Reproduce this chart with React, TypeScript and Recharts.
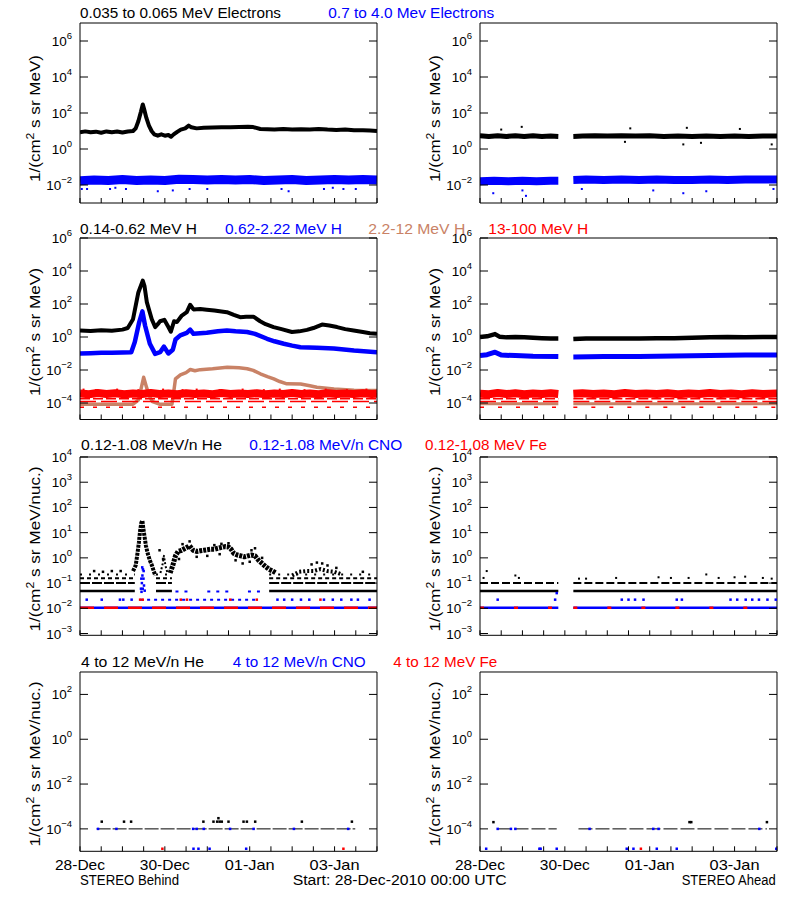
import { ComposedChart, Line, Scatter, XAxis, YAxis } from "recharts";

type Pt = [number, number | null];

const FONT = "'Liberation Sans', Arial, sans-serif";
const BLACK = "#000000";
const BLUE = "#0000ff";
const BROWN = "#c98266";
const RED = "#ff0000";

// hours since 28-Dec-2010 00:00, ticks every 12 h
const HOUR_TICKS = [0, 12, 24, 36, 48, 60, 72, 84, 96, 108, 120, 132, 144, 156, 168];
const DATE_LABELS: Record<number, string> = { 0: "28-Dec", 48: "30-Dec", 96: "01-Jan", 144: "03-Jan" };

const TICKS_E = [1e-2, 1, 1e2, 1e4, 1e6];
const TICKS_H = [1e-4, 1e-2, 1, 1e2, 1e4, 1e6];
const TICKS_ION = [1e-3, 1e-2, 1e-1, 1, 1e1, 1e2, 1e3, 1e4];
const TICKS_HI = [1e-4, 1e-2, 1, 1e2];

// ---------- electrons ----------
const E_LOW_BEHIND: Pt[] = [
  [0, 8.5], [3, 9.5], [6, 8.5], [9, 9.2], [12, 8], [15, 9.5], [18, 8.6], [21, 9.3], [24, 8.2], [27, 9.4],
  [30, 10], [31.5, 14], [33, 35], [34.5, 120], [35.5, 300], [36.3, 160], [37.5, 55], [39, 20], [40.5, 10],
  [42, 6.5], [44, 5.5], [46, 6.5], [48, 5.5], [50, 6], [51.5, 4.8], [53, 6.5], [55, 9], [57, 12], [59.5, 14],
  [61.5, 20], [63, 16], [66, 14], [70, 15], [75, 15.5], [80, 16], [85, 16], [90, 16.5], [95, 17], [98, 16.5],
  [102, 13], [106, 12.5], [110, 12], [115, 13], [120, 12], [125, 12.5], [130, 12], [135, 13], [140, 12],
  [145, 11.5], [150, 12], [155, 11], [160, 11], [164, 10.5], [168, 10],
];
const E_HIGH_BEHIND: Pt[] = [
  [0, 0.017], [8, 0.019], [16, 0.018], [24, 0.02], [32, 0.018], [40, 0.019], [48, 0.018], [56, 0.021],
  [64, 0.02], [72, 0.019], [80, 0.02], [88, 0.019], [96, 0.02], [104, 0.018], [112, 0.019], [120, 0.02],
  [128, 0.018], [136, 0.019], [144, 0.02], [152, 0.019], [160, 0.02], [168, 0.019],
];
const E_HIGH_BEHIND_LOW: Pt[] = [
  [1, 0.006], [4, 0.006], [17, 0.006], [20, 0.007], [26, 0.006], [44, 0.0045], [52.5, 0.005], [62, 0.006],
  [72, 0.006], [114, 0.006], [118, 0.0045], [138, 0.006], [143, 0.007], [149, 0.006], [156, 0.006],
];
const E_LOW_AHEAD: Pt[] = [
  [0, 5.5], [5, 5], [10, 5.5], [15, 5], [20, 5.5], [25, 5], [30, 5.5], [35, 5], [40, 5.2], [44.3, 5],
  [48, null], [52.8, 5], [58, 5.2], [65, 5.5], [72, 5.3], [80, 5.5], [88, 5.2], [96, 5.4], [104, 5],
  [112, 5.2], [120, 5], [128, 5.3], [136, 5], [144, 5.2], [152, 5], [160, 5.3], [168, 5.2],
];
const E_LOW_AHEAD_OUT: Pt[] = [
  [23.6, 17], [85, 14], [117, 15], [147, 13], [82, 2.5], [115, 1.8], [125, 2.2], [165, 1.8], [12, 12],
];
const E_HIGH_AHEAD: Pt[] = [
  [0, 0.016], [8, 0.017], [16, 0.016], [24, 0.017], [32, 0.016], [40, 0.017], [44.3, 0.017], [48, null],
  [52.8, 0.019], [60, 0.02], [70, 0.019], [80, 0.02], [90, 0.019], [100, 0.02], [110, 0.019], [120, 0.019],
  [130, 0.02], [140, 0.019], [150, 0.02], [160, 0.02], [168, 0.02],
];
const E_HIGH_AHEAD_LOW: Pt[] = [
  [7.5, 0.0035], [24, 0.005], [26, 0.0025], [57.6, 0.006], [98, 0.005], [115, 0.0035], [128, 0.0045], [166, 0.006],
];

// ---------- protons ----------
const H_LOW_BEHIND: Pt[] = [
  [0, 2.5], [6, 2.3], [12, 2.6], [18, 2.4], [24, 2.8], [27, 3.5], [30, 12], [33, 500], [35.5, 2600], [36.5, 1200],
  [37.8, 130], [40.6, 12], [42.5, 4], [44, 6], [45.3, 9], [47.7, 11], [50, 4], [51.4, 2.1], [53.2, 9], [54.8, 8],
  [57.6, 20], [60.4, 32], [62.3, 90], [64.2, 47], [68, 50], [71.7, 45], [76, 40], [80, 35], [83.1, 32], [87, 22],
  [90.6, 16], [94, 17], [98.1, 17], [101.9, 9], [105, 6], [109.5, 4], [114, 3], [119.9, 2], [124, 2.2],
  [128.4, 2.7], [132, 3.5], [136.9, 5.7], [141, 5], [145.4, 4], [150, 3], [154.8, 2.5], [160, 2], [164, 1.7], [168, 1.55],
];
const H_MID_BEHIND: Pt[] = [
  [0, 0.1], [6, 0.105], [12, 0.11], [18, 0.11], [24, 0.115], [29, 0.12], [31, 0.5], [33.5, 8], [35.3, 36],
  [36.8, 5], [39.5, 0.39], [42.5, 0.095], [45.3, 0.12], [47.5, 0.26], [50, 0.1], [52.5, 0.17], [54, 0.7],
  [56.7, 1.26], [60.4, 1.8], [62.3, 2.8], [64.2, 1.55], [71.7, 1.8], [78, 2.2], [83.1, 2.5], [88, 2.2], [94.5, 2],
  [99, 1.55], [105.8, 0.78], [110, 0.55], [115.3, 0.39], [120, 0.3], [124.7, 0.24], [134, 0.22], [143.6, 0.2],
  [155, 0.15], [168, 0.12],
];
const H_HIGH_BEHIND: Pt[] = [
  [0, 8.5e-5], [10, 8.5e-5], [20, 8.5e-5], [30, 8.5e-5], [33, 1.5e-4], [34.5, 7e-4], [36, 3.6e-3], [37.5, 1e-3],
  [39, 3e-4], [41, 1.2e-4], [45, 8.5e-5], [52, 8.5e-5], [53, 4.5e-4], [54, 2.9e-3], [56.8, 5.1e-3], [60, 7e-3],
  [62.4, 0.0107], [65, 0.009], [68, 0.0105], [75, 0.012], [83.3, 0.0148], [90, 0.0135], [94.6, 0.012],
  [98, 0.0095], [102, 5.9e-3], [106, 4e-3], [109.6, 2.9e-3], [113, 2e-3], [117, 1.45e-3], [124.8, 1.4e-3],
  [130, 1.1e-3], [134, 9e-4], [143.7, 7e-4], [155, 6e-4], [168, 5.7e-4],
];
const H_TOP_BEHIND: Pt[] = [
  [0, 3.8e-4], [5, 3.4e-4], [10, 4e-4], [15, 3.5e-4], [20, 3.9e-4], [25, 3.4e-4], [30, 3.8e-4], [35, 3.5e-4],
  [40, 4e-4], [45, 3.5e-4], [50, 3.8e-4], [55, 3.4e-4], [60, 3.9e-4], [65, 3.5e-4], [70, 3.8e-4], [75, 3.4e-4],
  [80, 4e-4], [85, 3.5e-4], [90, 3.8e-4], [95, 3.5e-4], [100, 3.9e-4], [105, 3.4e-4], [110, 3.8e-4],
  [115, 3.5e-4], [120, 4e-4], [125, 3.5e-4], [130, 3.8e-4], [135, 3.4e-4], [140, 3.9e-4], [145, 3.5e-4],
  [150, 3.8e-4], [155, 3.5e-4], [160, 3.9e-4], [165, 3.5e-4], [168, 3.7e-4],
];
const H_TOP_BEHIND_UP: Pt[] = [
  [2, 6.5e-4], [9, 6e-4], [21, 6.5e-4], [33, 6e-4], [47, 6.5e-4], [58, 6e-4], [66, 6.5e-4], [79, 6e-4],
  [92, 6.5e-4], [104, 6e-4], [113, 6.5e-4], [127, 6e-4], [139, 6.5e-4], [151, 6e-4], [162, 6.5e-4],
];
const H_TOP_LEVELS = [1.8e-4, 1.25e-4, 5.6e-5];
const H_HIGH_AHEAD_LEVEL = 9e-5;

const H_LOW_AHEAD: Pt[] = [
  [0, 1], [4, 1.1], [8.5, 1.5], [11, 1.05], [15, 0.95], [20, 1], [25, 0.95], [30, 0.9], [35, 0.85], [40, 0.8],
  [44.3, 0.8], [48, null], [52.8, 0.75], [60, 0.8], [70, 0.82], [80, 0.8], [90, 0.82], [100, 0.85], [110, 0.85],
  [120, 0.9], [130, 0.95], [140, 1], [150, 0.95], [160, 1], [168, 1],
];
const H_MID_AHEAD: Pt[] = [
  [0, 0.075], [4, 0.085], [8.5, 0.12], [12, 0.08], [20, 0.075], [30, 0.068], [44.3, 0.065], [48, null],
  [52.8, 0.062], [70, 0.065], [90, 0.066], [110, 0.07], [130, 0.075], [150, 0.08], [168, 0.08],
];
const H_TOP_AHEAD: Pt[] = [
  [0, 3.7e-4], [5, 3.4e-4], [10, 4e-4], [15, 3.5e-4], [20, 3.9e-4], [25, 3.4e-4], [30, 3.8e-4], [35, 3.5e-4],
  [40, 3.9e-4], [44.3, 3.5e-4], [48, null], [52.8, 3.6e-4], [58, 3.9e-4], [64, 3.5e-4], [70, 3.8e-4],
  [76, 3.4e-4], [82, 4e-4], [88, 3.5e-4], [94, 3.8e-4], [100, 3.5e-4], [106, 3.9e-4], [112, 3.4e-4],
  [118, 3.8e-4], [124, 3.5e-4], [130, 4e-4], [136, 3.5e-4], [142, 3.8e-4], [148, 3.4e-4], [154, 3.9e-4],
  [160, 3.5e-4], [168, 3.8e-4],
];

// ---------- 0.12-1.08 MeV/n ions ----------
const HE_BEHIND_PEAK: Pt[] = [
  [30, 0.3], [31.5, 0.5], [32.5, 1.5], [33.3, 4], [34, 12], [34.7, 25], [35.3, 30], [35.8, 15], [36.5, 7],
  [37.3, 3], [38.3, 1.5], [39.5, 0.8], [40.7, 0.5], [41.7, 0.3], [42.6, 0.2],
];
const HE_BEHIND_MID: Pt[] = [[45.5, 0.25], [46.8, 0.6], [47.5, 1.2], [48.3, 0.5], [49.5, 0.25]];
const HE_BEHIND_CLOUD: Pt[] = [
  [51, 0.25], [52.5, 0.5], [54, 1.2], [55.5, 1.8], [57.5, 2], [60, 2.5], [62, 3], [64, 2], [66, 1.8], [68, 1.9],
  [70, 2], [72, 2.1], [74, 2.2], [76, 2.2], [78, 2.4], [80, 2.6], [82, 2.8], [84, 2.7], [85.5, 2.2], [87, 1.5],
  [89, 1.3], [91, 1.2], [93, 1.1], [95, 1.2], [97, 1.3], [99, 1.2], [101, 0.8], [103, 0.6], [105, 0.45],
  [107, 0.35], [109, 0.3], [111, 0.25],
];
const HE_BEHIND_LATE: Pt[] = [
  [120, 0.2], [124, 0.28], [128, 0.3], [132, 0.3], [136, 0.36], [140, 0.3], [144, 0.28], [148, 0.22],
];
const HE_BEHIND_SCATTER: Pt[] = [
  [8, 0.3], [13, 0.28], [18, 0.3], [23, 0.3], [62, 4.5], [58, 3.5], [76, 3.2], [80, 3.6], [84, 3.8],
  [97, 2], [99, 2.4], [131, 0.55], [134, 0.65], [137, 0.6], [140, 0.5], [145, 0.4], [160, 0.28],
  [56, 0.9], [66, 1.1], [72, 1.2], [79, 1.4], [88, 0.8], [92, 0.6], [96, 0.7], [103, 1], [45, 2], [47, 0.9],
];
const HE_LEVELS = [0.22, 0.155, 0.1, 0.049];

const CNO_BEHIND_PEAK: Pt[] = [
  [34.5, 0.06], [34.8, 0.045], [35, 0.1], [35.3, 0.2], [35.5, 0.06], [35.6, 0.35], [35.9, 0.15], [36, 0.3],
  [36.2, 0.08], [36.6, 0.05], [35.2, 0.42], [34.7, 0.15],
];
const CNO_BEHIND_022: Pt[] = [
  [3.8, 0.022], [12.3, 0.022], [22.6, 0.022], [24.5, 0.022], [29.2, 0.022], [111.7, 0.022], [115.5, 0.022],
  [120, 0.022], [125, 0.022], [129.7, 0.022], [138, 0.022], [143, 0.022], [147.8, 0.022], [153.5, 0.022],
  [157.2, 0.022], [163.8, 0.022],
];
const FE_BEHIND_022: Pt[] = [
  [34, 0.022], [35.5, 0.022], [57, 0.022], [60.5, 0.022], [85, 0.022], [100, 0.022], [136, 0.022],
];
const ION_FLOOR = 0.0105;

const HE_AHEAD_SCATTER: Pt[] = [
  [3.8, 0.3], [2, 0.16], [20, 0.2], [22, 0.16], [56, 0.15], [60, 0.15], [77, 0.16], [101, 0.17], [108, 0.16],
  [118, 0.16], [128, 0.22], [135, 0.16], [144, 0.17], [150, 0.18], [160, 0.16], [165, 0.15],
];
const CNO_AHEAD_022: Pt[] = [
  [10, 0.022], [42.5, 0.022], [43.4, 0.04], [80.2, 0.022], [84, 0.022], [87.7, 0.022], [92.5, 0.022],
  [111.3, 0.022], [114.2, 0.022], [141.7, 0.022], [145.5, 0.022], [150.3, 0.022], [154, 0.022],
  [157.8, 0.022], [162.6, 0.022], [167.3, 0.022],
];

// ---------- 4-12 MeV/n ions ----------
const HI_FLOOR = 1e-4;
const HI_BOTTOM = 1.3e-5;
const HE4_BEHIND_DOTS: Pt[] = [
  [12.3, 2.1e-4], [24.9, 2.1e-4], [28.9, 2.1e-4], [69.8, 2.1e-4], [75.5, 2.1e-4], [78.3, 3e-4], [77.6, 2.1e-4],
  [79, 2.1e-4], [80.2, 2.1e-4], [84, 2.1e-4], [92.5, 2.1e-4], [94.4, 2.1e-4], [99.1, 2.1e-4], [125.5, 2.1e-4],
  [153.8, 2.1e-4],
];
const CNO4_BEHIND_DOTS: Pt[] = [
  [64.2, HI_BOTTOM], [67, HI_BOTTOM], [73.3, HI_BOTTOM], [94, HI_BOTTOM],
  [10.2, 1e-4], [20.6, 1e-4], [64, 1e-4], [66, 1e-4], [70, 1e-4], [84.9, 1e-4], [98.2, 1e-4], [121, 1e-4], [151.7, 1e-4],
];
const FE4_BEHIND_DOTS: Pt[] = [[46.6, HI_BOTTOM], [149, HI_BOTTOM]];
const HE4_AHEAD_DOTS: Pt[] = [[7.6, 2e-4], [118.5, 2e-4], [119.5, 2e-4], [162.3, 2e-4]];
const CNO4_AHEAD_DOTS: Pt[] = [
  [3.5, HI_BOTTOM], [33.6, HI_BOTTOM], [34.3, HI_BOTTOM], [43.4, HI_BOTTOM], [83, HI_BOTTOM], [86.8, HI_BOTTOM],
  [100, HI_BOTTOM], [111.3, HI_BOTTOM], [167.6, HI_BOTTOM], [10, 1e-4], [17.5, 1e-4], [20, 1e-4], [62, 1e-4],
  [98, 1e-4], [101, 1e-4], [158, 1e-4],
];
const FE4_AHEAD_DOTS: Pt[] = [[91, HI_BOTTOM]];

// level line helpers (behind spans the whole week, ahead has a data gap)
const full = (v: number): Pt[] => [[0, v], [168, v]];
const gapped = (v: number): Pt[] => [[0, v], [44.3, v], [48, null], [52.8, v], [168, v]];
const behindLevel = (v: number): Pt[] => [[0, v], [31, v], [37, null], [43, v], [52, v], [80, null], [107, v], [168, v]];

interface Layer {
  pts: Pt[];
  color: string;
  w?: number;
  dash?: string;
  dot?: number;
}

interface PanelSpec {
  left: number;
  top: number;
  height: number;
  domain: [number, number];
  ticks: number[];
  dates: boolean;
  layers: Layer[];
}

const TOP_PAD = 14;

const ROW_E = { top: 23, height: 180, domain: [1e-3, 1e7] as [number, number], ticks: TICKS_E, dates: false };
const ROW_H = { top: 237.5, height: 181.5, domain: [1e-5, 1e6] as [number, number], ticks: TICKS_H, dates: false };
const ROW_ION = { top: 456.7, height: 178.3, domain: [8.5e-4, 1e4] as [number, number], ticks: TICKS_ION, dates: false };
const ROW_HI = { top: 671.7, height: 179.3, domain: [1e-5, 1e3] as [number, number], ticks: TICKS_HI, dates: true };

const PANELS: PanelSpec[] = [
  {
    ...ROW_E, left: 0,
    layers: [
      { pts: E_HIGH_BEHIND, color: BLUE, w: 9 },
      { pts: E_HIGH_BEHIND_LOW, color: BLUE, dot: 2 },
      { pts: E_LOW_BEHIND, color: BLACK, w: 4 },
    ],
  },
  {
    ...ROW_E, left: 400,
    layers: [
      { pts: E_HIGH_AHEAD, color: BLUE, w: 8 },
      { pts: E_HIGH_AHEAD_LOW, color: BLUE, dot: 2 },
      { pts: E_LOW_AHEAD, color: BLACK, w: 5 },
      { pts: E_LOW_AHEAD_OUT, color: BLACK, dot: 2 },
    ],
  },
  {
    ...ROW_H, left: 0,
    layers: [
      { pts: full(H_TOP_LEVELS[2]), color: RED, w: 1.5, dash: "4 9" },
      { pts: H_HIGH_BEHIND, color: BROWN, w: 3.5 },
      { pts: full(H_TOP_LEVELS[1]), color: RED, w: 1.5, dash: "16 5" },
      { pts: full(H_TOP_LEVELS[0]), color: RED, w: 1.5, dash: "10 3" },
      { pts: H_TOP_BEHIND, color: RED, w: 8 },
      { pts: H_TOP_BEHIND_UP, color: RED, dot: 2 },
      { pts: H_MID_BEHIND, color: BLUE, w: 4.5 },
      { pts: H_LOW_BEHIND, color: BLACK, w: 4 },
    ],
  },
  {
    ...ROW_H, left: 400,
    layers: [
      { pts: gapped(H_TOP_LEVELS[2]), color: RED, w: 1.5, dash: "4 14" },
      { pts: gapped(H_HIGH_AHEAD_LEVEL), color: BROWN, w: 3 },
      { pts: gapped(H_TOP_LEVELS[1]), color: RED, w: 1.5, dash: "16 5" },
      { pts: gapped(H_TOP_LEVELS[0]), color: RED, w: 1.5, dash: "10 3" },
      { pts: H_TOP_AHEAD, color: RED, w: 8 },
      { pts: H_MID_AHEAD, color: BLUE, w: 5 },
      { pts: H_LOW_AHEAD, color: BLACK, w: 4.5 },
    ],
  },
  {
    ...ROW_ION, left: 0,
    layers: [
      { pts: full(ION_FLOOR), color: BLUE, w: 2.5 },
      { pts: full(ION_FLOOR), color: RED, w: 2.5, dash: "14 10" },
      { pts: CNO_BEHIND_022, color: BLUE, dot: 2.5 },
      { pts: [[34, 0.022], [100, 0.022]], color: BLUE, w: 2, dash: "3 4" },
      { pts: [[54, 0.046], [62, 0.046], [63, null], [72, 0.046], [85, 0.046], [86, null], [95, 0.046], [104, 0.046]], color: BLUE, w: 2, dash: "3 6" },
      { pts: FE_BEHIND_022, color: RED, dot: 2.5 },
      { pts: CNO_BEHIND_PEAK, color: BLUE, dot: 2.5 },
      { pts: behindLevel(HE_LEVELS[3]), color: BLACK, w: 2.5 },
      { pts: behindLevel(HE_LEVELS[2]), color: BLACK, w: 2, dash: "10 2" },
      { pts: behindLevel(HE_LEVELS[1]), color: BLACK, w: 2, dash: "4 3" },
      { pts: behindLevel(HE_LEVELS[0]), color: BLACK, w: 2, dash: "2 7" },
      { pts: HE_BEHIND_PEAK, color: BLACK, w: 4, dash: "3 1" },
      { pts: HE_BEHIND_MID, color: BLACK, w: 2, dash: "2 2" },
      { pts: HE_BEHIND_CLOUD, color: BLACK, w: 5, dash: "3 1" },
      { pts: HE_BEHIND_LATE, color: BLACK, w: 4, dash: "2 2" },
      { pts: HE_BEHIND_SCATTER, color: BLACK, dot: 2.5 },
    ],
  },
  {
    ...ROW_ION, left: 400,
    layers: [
      { pts: gapped(ION_FLOOR), color: BLUE, w: 2.5 },
      { pts: gapped(ION_FLOOR), color: RED, w: 2.5, dash: "4 30" },
      { pts: CNO_AHEAD_022, color: BLUE, dot: 2.5 },
      { pts: gapped(HE_LEVELS[3]), color: BLACK, w: 2.5 },
      { pts: gapped(HE_LEVELS[2]), color: BLACK, w: 2, dash: "8 3" },
      { pts: HE_AHEAD_SCATTER, color: BLACK, dot: 2 },
    ],
  },
  {
    ...ROW_HI, left: 0,
    layers: [
      { pts: [[9.4, HI_FLOOR], [155.7, HI_FLOOR]], color: BLACK, w: 1, dash: "14 2" },
      { pts: HE4_BEHIND_DOTS, color: BLACK, dot: 2.5 },
      { pts: CNO4_BEHIND_DOTS, color: BLUE, dot: 2.5 },
      { pts: FE4_BEHIND_DOTS, color: RED, dot: 2.5 },
    ],
  },
  {
    ...ROW_HI, left: 400,
    layers: [
      { pts: [[9.9, HI_FLOOR], [43.4, HI_FLOOR], [48, null], [55.7, HI_FLOOR], [162.3, HI_FLOOR]], color: BLACK, w: 1, dash: "14 3" },
      { pts: HE4_AHEAD_DOTS, color: BLACK, dot: 2.5 },
      { pts: CNO4_AHEAD_DOTS, color: BLUE, dot: 2.5 },
      { pts: FE4_AHEAD_DOTS, color: RED, dot: 2.5 },
    ],
  },
];

const TITLES = [
  { x: 80, y: 18, w: 201, color: BLACK, text: "0.035 to 0.065 MeV Electrons" },
  { x: 328.3, y: 18, w: 166, color: BLUE, text: "0.7 to 4.0 Mev Electrons" },
  { x: 80, y: 233.5, w: 117, color: BLACK, text: "0.14-0.62 MeV H" },
  { x: 225, y: 233.5, w: 117, color: BLUE, text: "0.62-2.22 MeV H" },
  { x: 368.3, y: 233.5, w: 97, color: BROWN, text: "2.2-12 MeV H" },
  { x: 488.3, y: 233.5, w: 100, color: RED, text: "13-100 MeV H" },
  { x: 81, y: 450, w: 141, color: BLACK, text: "0.12-1.08 MeV/n He" },
  { x: 249.3, y: 450, w: 153, color: BLUE, text: "0.12-1.08 MeV/n CNO" },
  { x: 425, y: 450, w: 122, color: RED, text: "0.12-1.08 MeV Fe" },
  { x: 81, y: 666.5, w: 123, color: BLACK, text: "4 to 12 MeV/n He" },
  { x: 232.7, y: 666.5, w: 133, color: BLUE, text: "4 to 12 MeV/n CNO" },
  { x: 393.3, y: 666.5, w: 104, color: RED, text: "4 to 12 MeV Fe" },
  { x: 80, y: 885, w: 99, color: BLACK, text: "STEREO Behind" },
  { x: 292.7, y: 885, w: 214, color: BLACK, text: "Start: 28-Dec-2010 00:00 UTC" },
  { x: 681.7, y: 885, w: 94, color: BLACK, text: "STEREO Ahead" },
];

const Y_TITLES = [
  { cy: 118.5, len: 127, unit: "MeV" },
  { cy: 332, len: 128, unit: "MeV" },
  { cy: 549, len: 165, unit: "MeV/nuc." },
  { cy: 764, len: 165, unit: "MeV/nuc." },
];

function LeftTick(props: any) {
  const { x, y, payload } = props;
  const exp = String(Math.round(Math.log10(payload.value))).replace("-", "\u2212");
  return (
    <g>
      <line x1={x + 8} x2={x + 16} y1={y} y2={y} stroke={BLACK} />
      <text x={x} y={y + 5} textAnchor="end" fontSize={13.5} fill={BLACK} fontFamily={FONT}>
        10<tspan dy={-7} fontSize={9.5}>{exp}</tspan>
      </text>
    </g>
  );
}

function RightTick(props: any) {
  const { x, y } = props;
  return <line x1={x} x2={x - 8} y1={y} y2={y} stroke={BLACK} />;
}

function makeHourTick(dates: boolean) {
  return (props: any) => {
    const { x, y, payload } = props;
    const label = dates ? DATE_LABELS[payload.value] : undefined;
    return (
      <g>
        <line x1={x} x2={x} y1={y} y2={y - 5} stroke={BLACK} />
        {label && (
          <text x={x} y={y + 19} textAnchor="middle" fontSize={14} fill={BLACK} fontFamily={FONT}
            textLength={50} lengthAdjust="spacingAndGlyphs">
            {label}
          </text>
        )}
      </g>
    );
  };
}

function renderLayer(layer: Layer, i: number) {
  const data = layer.pts.map(([h, v]) => ({ h, v }));
  if (layer.dot) {
    const s = layer.dot;
    return (
      <Scatter key={i} data={data} dataKey="v" xAxisId="b" yAxisId="l" isAnimationActive={false}
        shape={(p: any) => <rect x={p.cx - s / 2} y={p.cy - s / 2} width={s} height={s} fill={layer.color} />} />
    );
  }
  return (
    <Line key={i} data={data} dataKey="v" xAxisId="b" yAxisId="l" type="linear" stroke={layer.color}
      strokeWidth={layer.w} strokeDasharray={layer.dash} strokeLinejoin="round" dot={false} activeDot={false}
      connectNulls={false} isAnimationActive={false} />
  );
}

function Panel({ spec }: { spec: PanelSpec }) {
  const bottom = spec.dates ? 40 : 8;
  return (
    <div style={{ position: "absolute", left: spec.left, top: spec.top - TOP_PAD }}>
      <ComposedChart width={400} height={TOP_PAD + spec.height + bottom} margin={{ top: 0, right: 22, bottom: 0, left: 0 }}>
        <XAxis xAxisId="b" dataKey="h" type="number" domain={[0, 168]} ticks={HOUR_TICKS} interval={0}
          allowDataOverflow height={bottom} tickSize={0} tickMargin={0} tickLine={false}
          axisLine={{ stroke: BLACK }} tick={makeHourTick(spec.dates)} />
        <XAxis xAxisId="t" dataKey="h" orientation="top" type="number" domain={[0, 168]} height={TOP_PAD}
          tick={false} tickLine={false} axisLine={{ stroke: BLACK }} />
        <YAxis yAxisId="l" type="number" scale="log" domain={spec.domain} ticks={spec.ticks} interval={0}
          allowDataOverflow width={80} tickSize={0} tickMargin={8} tickLine={false}
          axisLine={{ stroke: BLACK }} tick={LeftTick} />
        <YAxis yAxisId="r" orientation="right" type="number" scale="log" domain={spec.domain} ticks={spec.ticks}
          interval={0} allowDataOverflow width={1} tickSize={0} tickMargin={0} tickLine={false}
          axisLine={{ stroke: BLACK }} tick={RightTick} />
        {spec.layers.map(renderLayer)}
      </ComposedChart>
    </div>
  );
}

export default function App() {
  return (
    <div style={{ position: "absolute", left: 0, top: 0, width: 800, height: 900, background: "#fff", overflow: "hidden" }}>
      {PANELS.map((p, i) => (
        <Panel key={i} spec={p} />
      ))}
      <svg width={800} height={900} style={{ position: "absolute", left: 0, top: 0, pointerEvents: "none" }}>
        {TITLES.map((t, i) => (
          <text key={i} x={t.x} y={t.y} fontSize={14} fill={t.color} fontFamily={FONT}
            textLength={t.w} lengthAdjust="spacingAndGlyphs">
            {t.text}
          </text>
        ))}
        {Y_TITLES.flatMap((t, i) =>
          [39.5, 439.5].map((cx) => (
            <text key={`${i}-${cx}`} transform={`translate(${cx} ${t.cy}) rotate(-90)`} textAnchor="middle"
              fontSize={14} fill={BLACK} fontFamily={FONT} textLength={t.len} lengthAdjust="spacingAndGlyphs">
              1/(cm<tspan dy={-6} fontSize={10}>2</tspan>
              <tspan dy={6}>{` s sr ${t.unit})`}</tspan>
            </text>
          ))
        )}
      </svg>
    </div>
  );
}
